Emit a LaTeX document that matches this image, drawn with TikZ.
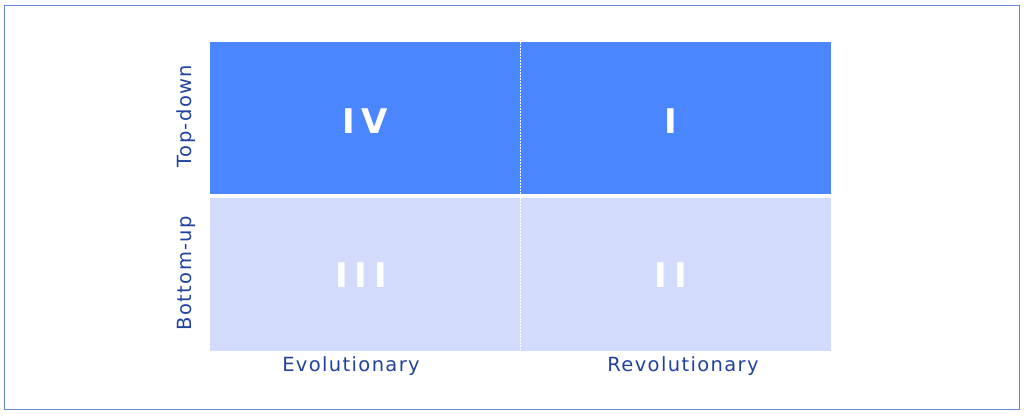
\documentclass[tikz,border=0pt]{standalone}
\usepackage{fontspec}
\setmainfont{DejaVu Sans}
\newfontfamily\axisfont[LetterSpace=7]{DejaVu Sans}
\definecolor{topblue}{RGB}{74,134,255}
\definecolor{lowblue}{RGB}{211,219,252}
\definecolor{navy}{RGB}{34,66,160}
\definecolor{frame}{RGB}{100,135,215}
\tikzset{
  numeral/.style={text=white, font=\fontsize{34}{34}\selectfont\bfseries},
  axis/.style={text=navy, font=\axisfont\fontsize{19.5}{19.5}\selectfont}
}
\begin{document}
\begin{tikzpicture}[x=1pt,y=-1pt]
\useasboundingbox (0,0) rectangle (1024,415);
\draw[frame, line width=1.5pt] (4.5,5.5) rectangle (1019.5,409.5);
\fill[topblue] (210,42) rectangle (831,194);
\fill[lowblue] (210,198) rectangle (831,351);
\draw[white, line width=0.8pt, dash pattern=on 2pt off 1pt] (520.5,42) -- (520.5,351);
\node[numeral] (iv) at (365,121) {I\hspace{0.2em}V};
\node[numeral] (i) at (671,121) {I};
\node[numeral] (iii) at (361,275) {I\hspace{0.2em}I\hspace{0.2em}I};
\node[numeral] (ii) at (671,275) {I\hspace{0.2em}I};
\node[axis] (evo) at (351,366) {Evolutionary};
\node[axis] (rev) at (683,366) {Revolutionary};
\node[axis, rotate=90] (td) at (186,116) {Top-down};
\node[axis, rotate=90] (bu) at (186,273) {Bottom-up};
\end{tikzpicture}
\end{document}
